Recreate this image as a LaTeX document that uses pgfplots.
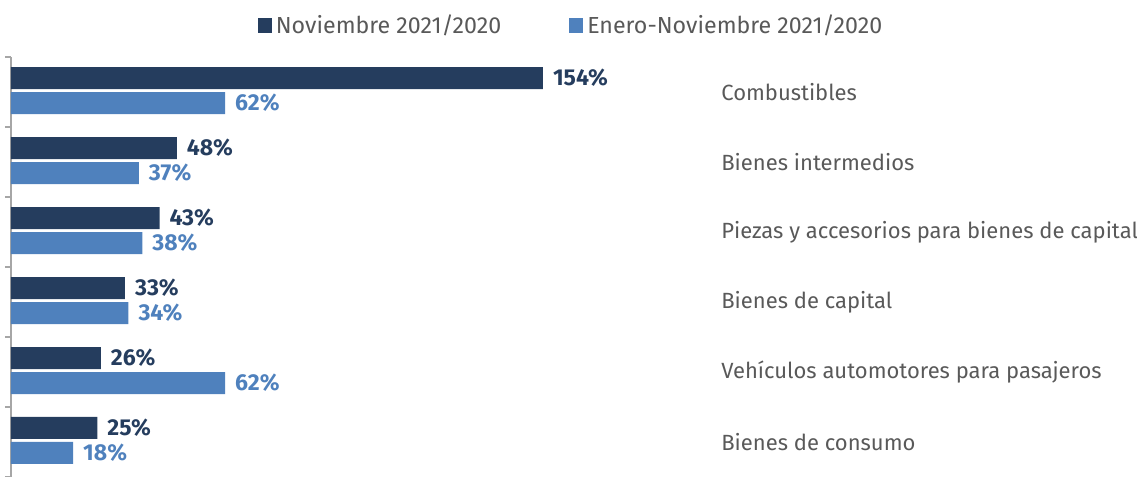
\documentclass[border=0pt]{standalone}
\usepackage{pgfplots}
\pgfplotsset{compat=1.18}
\usepackage{pgfplotstable}
\usepackage{fontspec}
\setmainfont{Fira Sans}
\definecolor{navy}{HTML}{253D5E}
\definecolor{lblue}{HTML}{4F81BD}
\definecolor{txt}{HTML}{595959}

% y: 5 = top category
\pgfplotstableread{
y nov ene
5 154 62
4 48 37
3 43 38
2 33 34
1 26 62
0 25 18
}\datos

\begin{document}
\begin{tikzpicture}
\begin{axis}[
  scale only axis, width=352pt, height=210pt,
  xmin=0, xmax=203.8, ymin=-0.5, ymax=5.5,
  hide x axis,
  axis y line*=left,
  y axis line style={-, draw=gray!70, line width=0.8pt},
  ytick={-0.5,0.5,...,5.5}, yticklabels={},
  y tick style={draw=gray!70, line width=0.8pt},
  tick align=inside, major tick length=3pt,
  xbar, bar width=11pt,
  point meta=x,
  /pgf/number format/assume math mode=true,
  nodes near coords={\pgfmathprintnumber{\pgfplotspointmeta}\%},
  nodes near coords style={font=\bfseries\fontsize{11.5}{13}\selectfont, anchor=west, xshift=1.5pt},
  legend style={draw=none, at={(axis description cs:0.797,1.075)}, anchor=center,
    legend columns=2, font=\fontsize{11.6}{13}\selectfont\color{txt},
    /tikz/every even column/.append style={column sep=32pt}},
  legend image code/.code={\fill[#1] (0pt,-3.75pt) rectangle (7pt,3.75pt);},
  clip=false,
]
\addplot[fill=navy, draw=none, bar shift=7pt,
  every node near coord/.append style={text=navy}] table[x=nov, y=y] {\datos};
\addlegendentry{Noviembre 2021/2020}
\addplot[fill=lblue, draw=none, bar shift=-5.5pt,
  every node near coord/.append style={text=lblue}] table[x=ene, y=y] {\datos};
\addlegendentry{Enero-Noviembre 2021/2020}

\begin{scope}[every node/.style={anchor=west, text=txt, font=\fontsize{11}{13}\selectfont}]
\node at (axis cs:203.6,5) {Combustibles};
\node at (axis cs:203.6,4) {Bienes intermedios};
\node at (axis cs:203.6,3) {Piezas y accesorios para bienes de capital};
\node at (axis cs:203.6,2) {Bienes de capital};
\node at (axis cs:203.6,1) {Vehículos automotores para pasajeros};
\node at (axis cs:203.6,0) {Bienes de consumo};
\end{scope}
\coordinate (bl) at (rel axis cs:0,0);
\end{axis}
\pgfresetboundingbox
\path[use as bounding box] (bl) ++(-5.5pt,0.5pt) rectangle ++(568.5pt,238pt);
\end{tikzpicture}
\end{document}
